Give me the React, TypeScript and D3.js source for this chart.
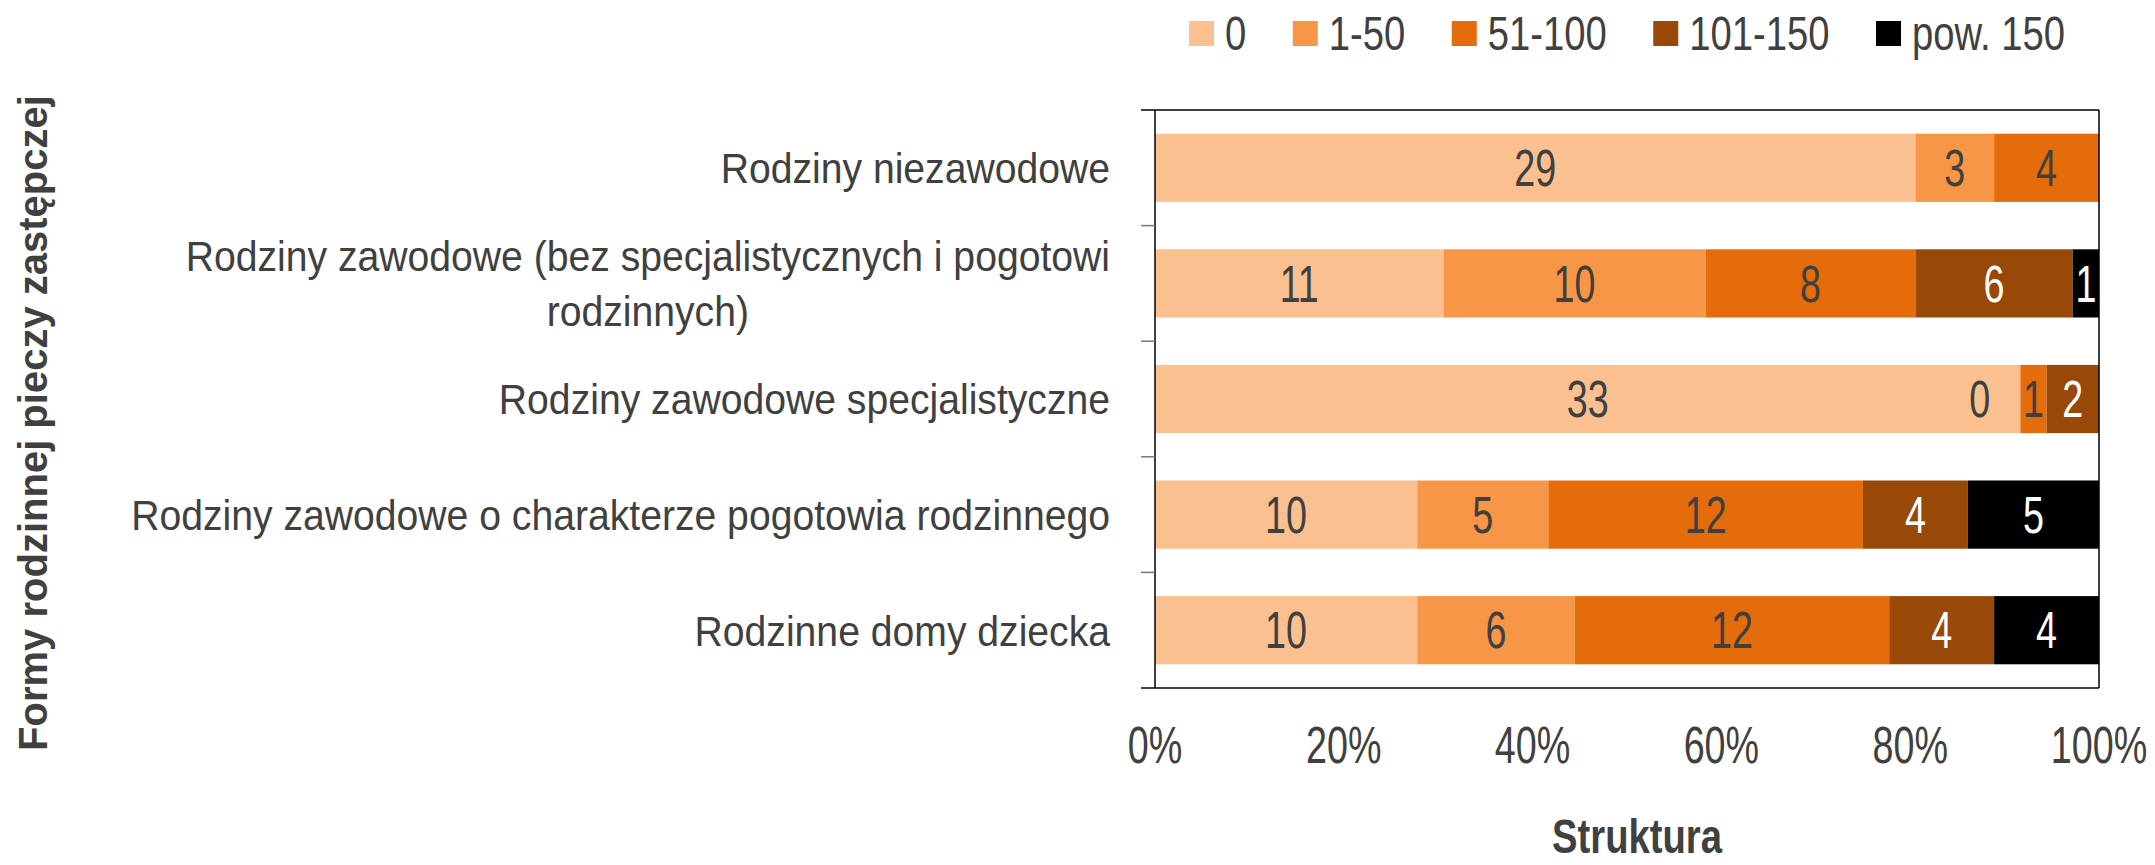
import React from "react";
import * as d3 from "d3";

const categories = [
  "Rodziny niezawodowe",
  "Rodziny zawodowe (bez specjalistycznych i pogotowi\nrodzinnych)",
  "Rodziny zawodowe specjalistyczne",
  "Rodziny zawodowe o charakterze pogotowia rodzinnego",
  "Rodzinne domy dziecka",
];
const seriesNames = ["0", "1-50", "51-100", "101-150", "pow. 150"];
const s0 = [29, 11, 33, 10, 10];
const s1 = [3, 10, 0, 5, 6];
const s2 = [4, 8, 1, 12, 12];
const s3: (number | null)[] = [null, 6, 2, 4, 4];
const s4: (number | null)[] = [null, 1, null, 5, 4];
const series = [s0, s1, s2, s3, s4];
const xTicks = [0, 0.2, 0.4, 0.6, 0.8, 1];
const xTitle = "Struktura";
const yTitle = "Formy rodzinnej pieczy zastępczej";

const colors = ["#FAC090", "#F79646", "#E46C0A", "#984807", "#000000"];
const labelColors = ["#404040", "#404040", "#404040", "#ffffff", "#ffffff"];
const TEXT = "#404040";
const FONT = "'Liberation Sans', Arial, sans-serif";

const W = 2155;
const H = 865;
const plot = { left: 1155, right: 2099, top: 110, bottom: 688 };

let ctx: CanvasRenderingContext2D | null = null;
function measure(text: string, size: number, bold = false): number {
  if (!ctx) ctx = document.createElement("canvas").getContext("2d");
  if (!ctx) return text.length * size * 0.5;
  ctx.font = `${bold ? "bold " : ""}${size}px "Liberation Sans", Arial, sans-serif`;
  return ctx.measureText(text).width;
}

function T(props: {
  x: number;
  y: number;
  sx?: number;
  size: number;
  anchor?: string;
  fill?: string;
  bold?: boolean;
  rotate?: number;
  children: React.ReactNode;
}) {
  const { x, y, sx = 1, size, anchor = "start", fill = TEXT, bold, rotate = 0, children } = props;
  return (
    <text
      transform={`translate(${x},${y}) rotate(${rotate}) scale(${sx},1)`}
      fontSize={size}
      fontFamily={FONT}
      fontWeight={bold ? "bold" : "normal"}
      textAnchor={anchor}
      fill={fill}
    >
      {children}
    </text>
  );
}

export default function App() {
  const x = d3.scaleLinear().domain([0, 1]).range([plot.left, plot.right]);
  const y = d3
    .scaleBand<string>()
    .domain(categories)
    .range([plot.top, plot.bottom])
    .paddingInner(0.41)
    .paddingOuter(0.205);
  const step = y.step();
  const bw = y.bandwidth();

  // category labels
  const catSize = 43;
  const catSx = 0.91;
  const catRight = 1110;
  const lineGap = 55;

  // data labels
  const dlSize = 51;
  const dlSx = 0.74;

  // legend
  const lgSize = 49;
  const lgSx = 0.78;
  const lgSq = 25;
  let lgX = 1189;
  const legendItems = seriesNames.map((name, i) => {
    const item = { name, i, x: lgX };
    lgX += lgSq + 11 + measure(name, lgSize) * lgSx + 46.5;
    return item;
  });

  const boundaries = d3.range(categories.length + 1).map((i) => plot.top + i * step);

  return (
    <svg
      width={W}
      height={H}
      style={{ position: "absolute", left: 0, top: 0, background: "#fff" }}
    >
      <rect x={0} y={0} width={W} height={H} fill="#fff" />

      {/* bars */}
      {categories.map((cat, r) => {
        const vals = series.map((s) => s[r]);
        const total = d3.sum(vals.map((v) => (v == null ? 0 : v)));
        let cum = 0;
        const y0 = y(cat)!;
        return (
          <g key={cat}>
            {vals.map((v, si) => {
              if (v == null) return null;
              const a = cum / total;
              cum += v;
              const b = cum / total;
              const xa = x(a);
              const xb = x(b);
              const cy = y0 + bw / 2 + (dlSize * 0.716) / 2;
              return (
                <g key={si}>
                  {v > 0 && (
                    <rect x={xa} y={y0} width={xb - xa} height={bw} fill={colors[si]} />
                  )}
                  {v > 0 ? (
                    <T x={(xa + xb) / 2} y={cy} size={dlSize} sx={dlSx} anchor="middle" fill={labelColors[si]}>
                      {v}
                    </T>
                  ) : (
                    <T x={xa - 30} y={cy} size={dlSize} sx={dlSx} anchor="end" fill={TEXT}>
                      {v}
                    </T>
                  )}
                </g>
              );
            })}
          </g>
        );
      })}

      {/* frame */}
      <line x1={plot.left - 14} x2={plot.right} y1={plot.top} y2={plot.top} stroke="#000" strokeWidth={1.5} />
      <line x1={plot.left - 14} x2={plot.right} y1={plot.bottom} y2={plot.bottom} stroke="#000" strokeWidth={1.5} />
      <line x1={plot.right} x2={plot.right} y1={plot.top} y2={plot.bottom} stroke="#000" strokeWidth={1.5} />
      <line x1={plot.left} x2={plot.left} y1={plot.top} y2={plot.bottom} stroke="#000" strokeWidth={1.5} />
      {boundaries.slice(1, -1).map((b, i) => (
        <line key={i} x1={plot.left - 14} x2={plot.left} y1={b} y2={b} stroke="#777" strokeWidth={1.5} />
      ))}

      {/* category labels */}
      {categories.map((cat) => {
        const lines = cat.split("\n");
        const c = y(cat)! + bw / 2 + (catSize * 0.716) / 2;
        if (lines.length === 1) {
          return (
            <T key={cat} x={catRight} y={c} size={catSize} sx={catSx} anchor="end">
              {cat}
            </T>
          );
        }
        const bwid = d3.max(lines.map((l) => measure(l, catSize) * catSx))!;
        const mid = catRight - bwid / 2;
        return (
          <g key={cat}>
            {lines.map((l, li) => (
              <T
                key={li}
                x={mid}
                y={c + (li - (lines.length - 1) / 2) * lineGap}
                size={catSize}
                sx={catSx}
                anchor="middle"
              >
                {l}
              </T>
            ))}
          </g>
        );
      })}

      {/* x tick labels */}
      {xTicks.map((t) => (
        <T key={t} x={x(t)} y={763} size={dlSize} sx={dlSx} anchor="middle">
          {d3.format(".0%")(t)}
        </T>
      ))}

      {/* axis titles */}
      <T x={1637} y={853} size={49} sx={0.78} anchor="middle" bold>
        {xTitle}
      </T>
      <T x={47} y={423} size={40} anchor="middle" bold rotate={-90}>
        {yTitle}
      </T>

      {/* legend */}
      {legendItems.map((it) => (
        <g key={it.name}>
          <rect x={it.x} y={21} width={lgSq} height={lgSq} fill={colors[it.i]} />
          <T x={it.x + lgSq + 11} y={50} size={lgSize} sx={lgSx}>
            {it.name}
          </T>
        </g>
      ))}
    </svg>
  );
}
